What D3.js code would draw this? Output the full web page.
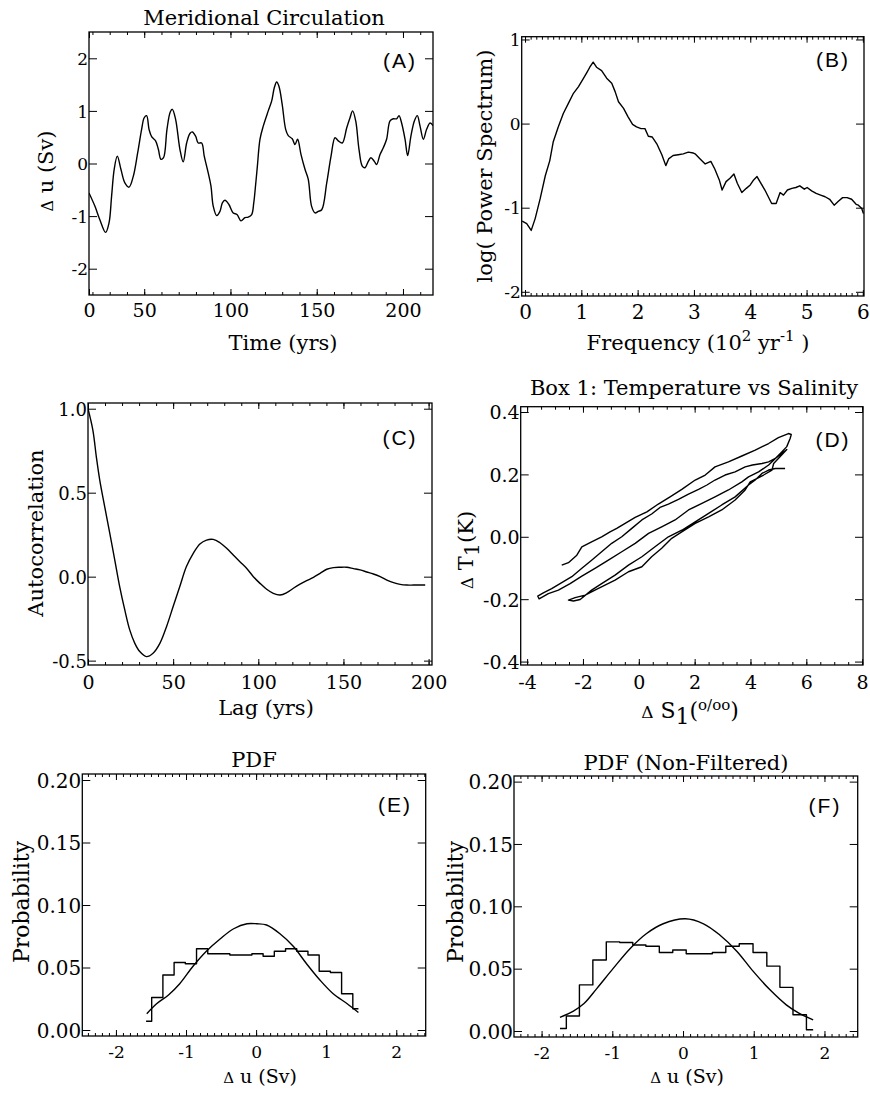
<!DOCTYPE html>
<html>
<head>
<meta charset="utf-8">
<script src="https://cdn.jsdelivr.net/npm/d3@7"></script>
<style>
  body { margin: 0; background: #fff; }
  svg text { fill: #000; }
</style>
</head>
<body>
<script>
// ---------- (A) meridional circulation time series
var timeA = [18.0,21.4,24.3,27.6,29.6,31.1,32.6,34.4,36.5,38.8,41.2,43.7,46.2,48.5,50.0,51.4,52.8,54.3,56.6,58.2,
  59.7,61.2,63.2,65.1,66.3,68.2,70.7,72.6,74.6,76.5,77.9,79.8,81.3,83.3,84.8,87.1,88.7,90.0,92.0,93.9,
  95.3,96.8,99.1,101.6,103.8,106.1,108.4,110.3,112.3,113.5,114.6,115.6,117.1,119.0,121.9,123.9,125.4,126.8,128.1,130.0,
  132.0,133.5,135.8,137.4,138.9,140.9,143.2,145.1,147.0,149.0,150.9,152.9,155.8,158.3,160.6,162.5,164.8,167.4,169.3,170.8,
  172.6,174.5,176.4,178.0,179.9,181.4,183.4,184.7,186.7,188.6,190.5,192.5,194.4,196.3,197.7,199.2,201.2,202.7,204.6,206.6,
  208.3,209.9,211.8,213.7,215.7,217.4];
var flowA = [-0.56,-0.81,-1.07,-1.31,-1.13,-0.62,-0.11,0.14,-0.11,-0.37,-0.45,-0.24,0.20,0.65,0.87,0.91,0.65,0.51,0.43,0.27,
  0.08,0.11,0.65,0.98,1.03,0.84,0.27,0.03,0.39,0.57,0.60,0.52,0.39,0.39,0.14,-0.18,-0.43,-0.81,-0.99,-0.91,
  -0.75,-0.70,-0.78,-0.94,-0.97,-1.09,-1.03,-1.02,-0.97,-0.75,-0.40,-0.05,0.46,0.71,1.00,1.19,1.44,1.55,1.47,1.12,
  0.65,0.53,0.47,0.36,0.46,0.17,-0.11,-0.30,-0.81,-0.94,-0.91,-0.88,-0.37,0.14,0.49,0.43,0.39,0.68,0.87,1.00,
  0.81,0.27,-0.05,-0.08,0.04,0.11,0.04,-0.02,0.17,0.30,0.46,0.81,0.85,0.85,0.91,0.77,0.46,0.15,0.52,0.81,
  0.91,0.71,0.46,0.65,0.77,0.72];
var ticksXA = [18, 50, 100, 150, 200];
var labelsXA = ["0", "50", "100", "150", "200"];
var ticksYA = [-2, -1, 0, 1, 2];

// ---------- (B) power spectrum
var freqB = [-0.05,0.03,0.11,0.18,0.27,0.36,0.44,0.50,0.59,0.68,0.77,0.86,0.95,1.04,1.10,1.15,1.21,1.27,1.36,1.45,
  1.54,1.60,1.66,1.75,1.83,1.91,1.98,2.06,2.13,2.19,2.26,2.34,2.43,2.50,2.55,2.63,2.72,2.81,2.90,2.99,
  3.02,3.11,3.20,3.30,3.37,3.45,3.50,3.57,3.64,3.71,3.77,3.85,3.93,4.00,4.06,4.12,4.19,4.26,4.32,4.38,
  4.46,4.53,4.59,4.66,4.74,4.81,4.88,4.96,5.01,5.09,5.17,5.25,5.33,5.41,5.49,5.57,5.64,5.72,5.80,5.88,
  5.92,5.98,6.01];
var powerB = [-1.16,-1.19,-1.27,-1.13,-0.89,-0.62,-0.44,-0.22,-0.04,0.12,0.24,0.36,0.44,0.54,0.61,0.67,0.73,0.67,0.63,0.54,
  0.48,0.38,0.26,0.18,0.08,-0.01,-0.04,-0.06,-0.06,-0.15,-0.16,-0.24,-0.37,-0.50,-0.42,-0.38,-0.37,-0.36,-0.34,-0.35,
  -0.36,-0.42,-0.48,-0.45,-0.54,-0.67,-0.79,-0.69,-0.65,-0.60,-0.71,-0.82,-0.77,-0.73,-0.67,-0.63,-0.71,-0.79,-0.87,-0.95,
  -0.95,-0.82,-0.85,-0.79,-0.77,-0.76,-0.74,-0.78,-0.76,-0.80,-0.83,-0.85,-0.87,-0.90,-0.97,-0.92,-0.88,-0.88,-0.90,-0.96,
  -0.97,-1.01,-1.07];
var ticksXB = [0, 1, 2, 3, 4, 5, 6];
var ticksYB = [-2, -1, 0, 1];

// ---------- (C) autocorrelation
var lagC = [0,2.9,4.9,6.9,9.8,12.8,15.7,18.6,21.6,24.5,27.5,30.4,34.3,38.2,42.2,46.1,50,53.9,57.8,61.8,
  65.7,69.6,73.5,77.5,81.4,85.3,89.2,93.1,97.1,101,104.9,108.8,112.8,116.7,120.6,124.5,128.4,132.4,136.3,140.2,
  144.1,148,152,155.9,159.8,163.7,167.6,171.6,175.5,179.4,183.3,187.3,191.2,198];
var corrC = [1.0,0.87,0.713,0.575,0.417,0.258,0.10,-0.059,-0.198,-0.317,-0.397,-0.446,-0.476,-0.456,-0.397,-0.298,-0.178,-0.059,0.06,0.139,
  0.195,0.218,0.222,0.202,0.169,0.129,0.089,0.05,0.0,-0.04,-0.075,-0.099,-0.109,-0.095,-0.069,-0.045,-0.024,-0.004,0.02,0.044,
  0.054,0.056,0.056,0.048,0.04,0.028,0.016,0.0,-0.02,-0.036,-0.046,-0.05,-0.05,-0.05];
var ticksXC = [0, 50, 100, 150, 200];
var ticksYC = [-0.5, 0.0, 0.5, 1.0];

// ---------- (D) box 1 temperature vs salinity trajectory
var salD = [-2.76,-2.52,-2.22,-2.04,-1.69,-1.33,-1.03,-0.79,-0.49,-0.13,0.29,0.70,1.12,1.54,2.02,2.38,2.73,3.21,3.69,4.17,
  4.65,5.00,5.36,5.46,5.42,5.30,5.12,4.89,4.65,4.41,4.07,3.81,3.45,3.09,2.73,2.44,2.14,1.78,1.42,1.06,
  0.76,0.46,0.11,-0.25,-0.61,-0.97,-1.33,-1.69,-2.04,-2.40,-2.82,-3.12,-3.42,-3.62,-3.57,-3.24,-2.88,-2.46,-2.04,-1.57,
  -1.09,-0.61,-0.13,0.35,0.82,1.30,1.78,2.26,2.73,3.21,3.69,3.93,4.29,4.65,4.89,5.12,5.30,4.83,4.77,4.47,
  4.17,3.99,3.81,3.45,2.97,2.50,2.02,1.54,1.18,0.82,0.46,0.11,-0.37,-0.85,-1.21,-1.57,-1.92,-2.28,-2.52,-2.34,
  -2.10,-1.69,-1.33,-0.85,-0.37,0.11,0.58,1.06,1.54,2.02,2.50,2.97,3.45,3.93,4.17,4.41,4.65,4.89,5.24];
var tempD = [-0.091,-0.083,-0.059,-0.032,-0.016,0.000,0.016,0.027,0.043,0.062,0.080,0.105,0.128,0.152,0.182,0.198,0.224,0.240,0.259,0.278,
  0.299,0.318,0.331,0.328,0.315,0.289,0.272,0.251,0.240,0.235,0.230,0.224,0.208,0.198,0.182,0.166,0.152,0.137,0.120,0.105,
  0.094,0.073,0.054,0.027,0.000,-0.021,-0.048,-0.075,-0.101,-0.128,-0.150,-0.166,-0.180,-0.190,-0.199,-0.182,-0.171,-0.150,-0.126,-0.101,
  -0.075,-0.048,-0.021,0.011,0.032,0.054,0.086,0.107,0.128,0.150,0.176,0.192,0.208,0.230,0.251,0.267,0.280,0.235,0.214,0.198,
  0.184,0.176,0.150,0.118,0.086,0.064,0.043,0.016,-0.005,-0.037,-0.064,-0.096,-0.112,-0.139,-0.155,-0.171,-0.187,-0.195,-0.203,-0.206,
  -0.201,-0.171,-0.150,-0.123,-0.091,-0.064,-0.032,0.000,0.021,0.048,0.075,0.102,0.128,0.166,0.182,0.203,0.214,0.219,0.219];
var ticksXD = [-4, -2, 0, 2, 4, 6, 8];
var ticksYD = [-0.4, -0.2, 0.0, 0.2, 0.4];

// ---------- (E) PDF (filtered)
var binE = [-1.57,-1.41,-1.25,-1.09,-0.93,-0.77,-0.61,-0.45,-0.30,-0.14,0.02,0.18,0.34,0.50,0.66,0.82,0.98,1.14,1.30,1.46];
var probE = [0.007,0.026,0.044,0.054,0.053,0.065,0.061,0.061,0.060,0.060,0.061,0.059,0.063,0.065,0.063,0.060,0.047,0.046,0.029,0.017];
var fitUE = [-1.56,-1.42,-1.25,-1.09,-0.90,-0.71,-0.51,-0.32,-0.13,0.01,0.15,0.34,0.53,0.72,0.91,1.10,1.30,1.46];
var fitPE = [0.013,0.021,0.028,0.037,0.051,0.063,0.073,0.081,0.085,0.085,0.084,0.077,0.067,0.053,0.040,0.029,0.021,0.014];

// ---------- (F) PDF (non-filtered)
var binF = [-1.74,-1.56,-1.37,-1.18,-0.99,-0.80,-0.62,-0.43,-0.24,-0.05,0.14,0.32,0.51,0.70,0.89,1.09,1.28,1.46,1.65,1.84];
var probF = [0.002,0.012,0.037,0.057,0.0715,0.071,0.069,0.068,0.063,0.065,0.062,0.062,0.063,0.068,0.070,0.063,0.052,0.035,0.013,0.001];
var fitUF = [-1.74,-1.55,-1.40,-1.22,-0.99,-0.75,-0.52,-0.28,0.03,0.29,0.52,0.76,0.99,1.23,1.46,1.65,1.84];
var fitPF = [0.011,0.016,0.022,0.034,0.050,0.066,0.078,0.086,0.090,0.086,0.077,0.064,0.048,0.033,0.021,0.014,0.009];

var ticksXEF = [-2, -1, 0, 1, 2];
var ticksYEF = [0.00, 0.05, 0.10, 0.15, 0.20];

var SERIF = "DejaVu Serif";
var SANS = "Liberation Sans";

var svg = d3.select("body").append("svg")
    .attr("width", 870)
    .attr("height", 1093)
    .attr("font-family", SERIF)

function zip(a, b){
    return a.map(function(d, i){ return [d, b[i]]; });
}

// hyphen instead of unicode minus, as in the original
function fmt(spec){
    var f = d3.format(spec);
    return function(d){ return f(d).replace("\u2212", "-"); };
}

function clean(sel){
    sel.select(".domain").remove();
    sel.attr("font-family", SERIF).attr("font-size", null);
    sel.selectAll("text").attr("font-family", SERIF);
    sel.selectAll("line").attr("stroke", "#000").attr("stroke-width", 1);
}

// one plot frame with inward ticks on all four sides
function panel(o){
    var L = o.box[0], R = o.box[1], T = o.box[2], B = o.box[3];
    var g = svg.append("g");
    var x = d3.scaleLinear().domain(o.xDomain).range([L, R]);
    var y = d3.scaleLinear().domain(o.yDomain).range([B, T]);

    // minor x ticks
    g.append("g").attr("transform", "translate(0," + B + ")")
        .call(d3.axisBottom(x).tickValues(o.xMinor).tickSize(-3).tickFormat("")).call(clean);
    g.append("g").attr("transform", "translate(0," + T + ")")
        .call(d3.axisTop(x).tickValues(o.xMinor).tickSize(-3).tickFormat("")).call(clean);

    // major x ticks
    var xf = fmt(o.xFmt || "d");
    var bx = g.append("g").attr("transform", "translate(0," + B + ")")
        .call(d3.axisBottom(x).tickValues(o.xTicks).tickSizeInner(-6).tickSizeOuter(0)
            .tickFormat(function(d, i){ return o.xLabels ? o.xLabels[i] : xf(d); }))
        .call(clean);
    bx.selectAll("text").attr("dy", null).attr("y", o.xLabOff).attr("font-size", o.xFs);
    g.append("g").attr("transform", "translate(0," + T + ")")
        .call(d3.axisTop(x).tickValues(o.xTicks).tickSizeInner(-6).tickSizeOuter(0).tickFormat("")).call(clean);

    // major y ticks
    var ly = g.append("g").attr("transform", "translate(" + L + ",0)")
        .call(d3.axisLeft(y).tickValues(o.yTicks).tickSizeInner(-8).tickSizeOuter(0)
            .tickFormat(fmt(o.yFmt)))
        .call(clean);
    ly.selectAll("text").attr("x", -1).attr("dy", "0.36em").attr("font-size", o.yFs);
    g.append("g").attr("transform", "translate(" + R + ",0)")
        .call(d3.axisRight(y).tickValues(o.yTicks).tickSizeInner(-8).tickSizeOuter(0).tickFormat("")).call(clean);

    g.append("rect")
        .attr("x", L).attr("y", T)
        .attr("width", R - L).attr("height", B - T)
        .attr("fill", "none").attr("stroke", "#000").attr("stroke-width", 1.3);

    if (o.title) {
        g.append("text").attr("x", o.title[1]).attr("y", o.title[2])
            .attr("text-anchor", "middle").attr("font-size", 21).text(o.title[0]);
    }

    g.append("text").attr("x", o.tag[1]).attr("y", o.tag[2])
        .attr("text-anchor", "middle").attr("font-family", SANS)
        .attr("font-size", 21).attr("letter-spacing", 2).text(o.tag[0]);

    var clipId = "clip" + o.tag[0].replace(/\W/g, "");
    g.append("clipPath").attr("id", clipId).append("rect")
        .attr("x", L).attr("y", T).attr("width", R - L).attr("height", B - T);
    var plot = g.append("g").attr("clip-path", "url(#" + clipId + ")");

    return { g: g, x: x, y: y, plot: plot };
}

function curve(p, pts, c){
    p.plot.append("path")
        .datum(pts)
        .attr("fill", "none")
        .attr("stroke", "#000")
        .attr("stroke-width", 1.4)
        .attr("stroke-linejoin", "round")
        .attr("d", d3.line().x(function(d){ return p.x(d[0]); }).y(function(d){ return p.y(d[1]); }).curve(c));
}

function yTitle(g, x, y, fs){
    return g.append("text").attr("transform", "translate(" + x + "," + y + ") rotate(-90)")
        .attr("text-anchor", "middle").attr("font-size", fs);
}

function xTitle(g, x, y, fs){
    return g.append("text").attr("x", x).attr("y", y)
        .attr("text-anchor", "middle").attr("font-size", fs);
}

// ---------------- panel A
var pA = panel({
    box: [89, 433, 32, 295], xDomain: [18, 217.4], yDomain: [-2.5, 2.5],
    xTicks: ticksXA, xLabels: labelsXA, xMinor: d3.range(20, 217, 10), xLabOff: 22, xFs: 19,
    yTicks: ticksYA, yFmt: "d", yFs: 17,
    title: ["Meridional Circulation", 264, 25], tag: ["(A)", 400, 68]
});
curve(pA, zip(timeA, flowA), d3.curveCatmullRom);
var tA = xTitle(pA.g, 283, 350, 21); tA.text("Time (yrs)");
var yA = yTitle(pA.g, 53, 171, 21);
yA.append("tspan").attr("font-size", 16).text("Δ");
yA.append("tspan").text(" u (Sv)");

// ---------------- panel B
var pB = panel({
    box: [521.7, 864, 36.7, 296], xDomain: [-0.059, 6.02], yDomain: [-2.05, 1.033],
    xTicks: ticksXB, xMinor: d3.range(0, 6.01, 0.1), xLabOff: 23, xFs: 20,
    yTicks: ticksYB, yFmt: "d", yFs: 17,
    tag: ["(B)", 833, 67]
});
curve(pB, zip(freqB, powerB), d3.curveLinear);
var tB = xTitle(pB.g, 698, 350, 21);
tB.append("tspan").text("Frequency (10");
tB.append("tspan").attr("font-size", 15).attr("dy", -9).text("2");
tB.append("tspan").attr("dy", 9).text(" yr");
tB.append("tspan").attr("font-size", 15).attr("dy", -9).text("-1");
tB.append("tspan").attr("dy", 9).text(" )");
var yB = yTitle(pB.g, 492, 166, 21); yB.text("log( Power Spectrum)");

// ---------------- panel C
var pC = panel({
    box: [88, 432, 403, 665], xDomain: [0, 202], yDomain: [-0.526, 1.034],
    xTicks: ticksXC, xMinor: d3.range(0, 202, 10), xLabOff: 24, xFs: 19,
    yTicks: ticksYC, yFmt: ".1f", yFs: 18,
    tag: ["(C)", 400, 445]
});
curve(pC, zip(lagC, corrC), d3.curveCatmullRom);
xTitle(pC.g, 266, 715, 21).text("Lag (yrs)");
yTitle(pC.g, 43, 533, 21).text("Autocorrelation");

// ---------------- panel D
var pD = panel({
    box: [520.7, 863, 406.7, 665], xDomain: [-4.23, 8.03], yDomain: [-0.411, 0.417],
    xTicks: ticksXD, xMinor: d3.range(-4, 8.01, 0.5), xLabOff: 24, xFs: 19,
    yTicks: ticksYD, yFmt: ".1f", yFs: 19,
    title: ["Box 1: Temperature vs Salinity", 694, 395], tag: ["(D)", 833, 447]
});
curve(pD, zip(salD, tempD), d3.curveLinear);
var tD = xTitle(pD.g, 690, 718, 22);
tD.append("tspan").attr("font-size", 17).text("Δ");
tD.append("tspan").text(" S");
tD.append("tspan").attr("dy", 6).text("1");
tD.append("tspan").attr("dy", -6).text("(");
tD.append("tspan").attr("font-size", 15).attr("dy", -8).text("o/oo");
tD.append("tspan").attr("dy", 8).text(")");
var yD = yTitle(pD.g, 473, 550, 21);
yD.append("tspan").attr("font-size", 17).text("Δ");
yD.append("tspan").text(" T");
yD.append("tspan").attr("dy", 6).text("1");
yD.append("tspan").attr("dy", -6).text("(K)");

// ---------------- panel E
var pE = panel({
    box: [82.3, 425.7, 774, 1036], xDomain: [-2.48, 2.42], yDomain: [-0.0048, 0.2048],
    xTicks: ticksXEF, xMinor: d3.range(-2.4, 2.41, 0.1), xLabOff: 22, xFs: 17,
    yTicks: ticksYEF, yFmt: ".2f", yFs: 20,
    title: ["PDF", 254, 767], tag: ["(E)", 395, 812]
});
curve(pE, zip(binE, probE), d3.curveStep);
curve(pE, zip(fitUE, fitPE), d3.curveCatmullRom);
var tE = xTitle(pE.g, 260, 1083, 19);
tE.append("tspan").attr("font-size", 15).text("Δ");
tE.append("tspan").text(" u (Sv)");
yTitle(pE.g, 29, 902, 22).text("Probability");

// ---------------- panel F
var pF = panel({
    box: [514, 857.7, 776, 1037], xDomain: [-2.39, 2.47], yDomain: [-0.0048, 0.2045],
    xTicks: ticksXEF, xMinor: d3.range(-2.3, 2.41, 0.1), xLabOff: 22, xFs: 17,
    yTicks: ticksYEF, yFmt: ".2f", yFs: 20,
    title: ["PDF (Non-Filtered)", 686, 770], tag: ["(F)", 825, 813]
});
curve(pF, zip(binF, probF), d3.curveStep);
curve(pF, zip(fitUF, fitPF), d3.curveCatmullRom);
var tF = xTitle(pF.g, 687, 1083, 19);
tF.append("tspan").attr("font-size", 15).text("Δ");
tF.append("tspan").text(" u (Sv)");
yTitle(pF.g, 463, 902, 22).text("Probability");
</script>
</body>
</html>
